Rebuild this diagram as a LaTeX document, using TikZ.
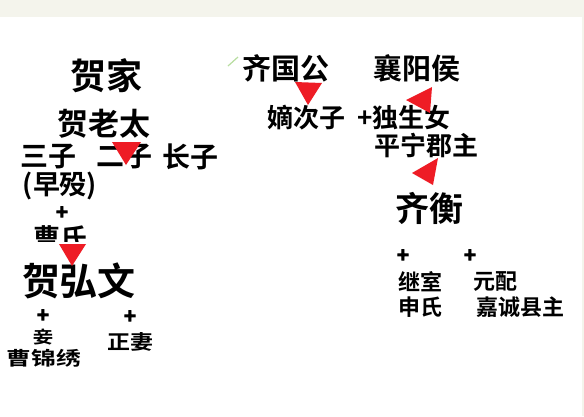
\documentclass[tikz,border=0pt]{standalone}
\usepackage{fontspec}
\setmainfont{Noto Sans CJK SC}[BoldFont={Noto Sans CJK SC Bold}]
\newfontfamily\plusfont{Noto Sans CJK SC Bold}[FakeBold=4]
\definecolor{topbar}{HTML}{F4F4EC}
\definecolor{tri}{HTML}{EE1C25}
\definecolor{leaf}{HTML}{B8DDA0}
\newcommand{\fsz}[1]{\fontsize{#1}{#1}\selectfont\bfseries}
\begin{document}
\begin{tikzpicture}[x=1pt,y=-1pt,
  lbl/.style={inner sep=0pt,anchor=center,text=black},
  big/.style={lbl,font=\fsz{36}},
  mid/.style={lbl,font=\fsz{29}},
  sml/.style={lbl,font=\fsz{22}},
  plus/.style={lbl,font=\plusfont\fontsize{20}{20}\selectfont},
  arrowtri/.style={fill=tri,draw=none}]
\useasboundingbox (0,0) rectangle (584,416);
\fill[white] (0,0) rectangle (584,416);
\fill[topbar] (0,0) rectangle (584,17);
\fill[topbar] (582,17) rectangle (584,416);
% left family
\node[big] (hejia) at (106,76) {贺家};
\node[mid,font=\fsz{31}] (helaotai) at (104,124) {贺老太};
\node[mid,font=\fsz{28}] (sanzi) at (48,157) {三子};
\node[mid,font=\fsz{28}] (erzi) at (124,157) {二子};
\node[mid,font=\fsz{28}] (changzi) at (190,157) {长子};
\node[mid,font=\fsz{27}] (zaomo) at (60,186) {(早殁)};
\node[plus] (p1) at (62,213) {+};
\begin{scope}
\clip (0,0) rectangle (584,241);
\node[mid,font=\fsz{27}] (caoshi) at (60,238) {曹氏};
\end{scope}
\node[big,font=\fsz{38}] (hehongwen) at (79,281) {贺弘文};
\node[plus] (p2) at (43,316) {+};
\node[plus] (p3) at (130,317) {+};
\node[sml,font=\fsz{17},xscale=1.2] (qie) at (43,337) {妾};
\node[sml,font=\fsz{19},xscale=1.3] (caojinxiu) at (44,358) {曹锦绣};
\node[sml,font=\fsz{20},xscale=1.15] (zhengqi) at (130,342) {正妻};
\fill[arrowtri] (112,142) -- (141,142) -- (126,165) -- cycle;
\fill[arrowtri] (59,244) -- (86,244) -- (72,266) -- cycle;
% right family
\draw[leaf,line width=1.2pt] (228,66) -- (238,57);
\node[mid] (qiguogong) at (286,68) {齐国公};
\node[mid] (xiangyanghou) at (417,68) {襄阳侯};
\node[mid,font=\fsz{26}] (dicizi) at (306,118) {嫡次子};
\node[mid,font=\fsz{26}] (dushengnv) at (404,118) {+独生女};
\node[mid,font=\fsz{26}] (pingning) at (426,145) {平宁郡主};
\node[big,font=\fsz{34}] (qiheng) at (429,208) {齐衡};
\node[plus] (p4) at (403,256) {+};
\node[plus] (p5) at (470,256) {+};
\node[sml] (jishi) at (420,282) {继室};
\node[sml] (shenshi) at (420,307) {申氏};
\node[sml] (yuanpei) at (495,282) {元配};
\node[sml] (jiacheng) at (520,307) {嘉诚县主};
\fill[arrowtri] (295,82) -- (322,83) -- (308,105) -- cycle;
\fill[arrowtri] (406,100) -- (432,87) -- (430,113) -- cycle;
\fill[arrowtri] (412,173) -- (438,158) -- (433,185) -- cycle;
\end{tikzpicture}
\end{document}
